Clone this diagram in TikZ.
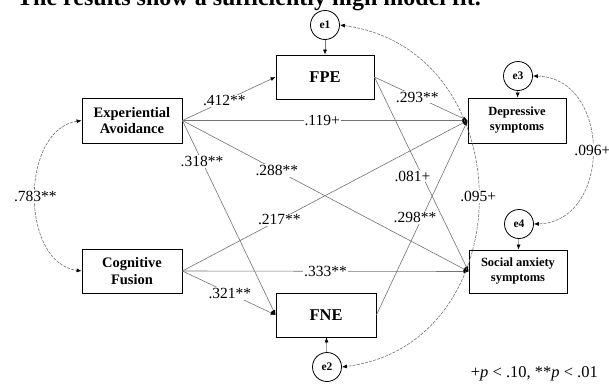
\documentclass[tikz,border=0pt]{standalone}
\usepackage{fontspec}
\setmainfont{Liberation Serif}
\usetikzlibrary{arrows.meta}
\tikzset{
  box/.style={draw=black, line width=0.8pt, fill=white, align=center, inner sep=0pt},
  boxA/.style={box, font=\bfseries\fontsize{14.5}{16.5}\selectfont},
  boxB/.style={box, font=\bfseries\fontsize{12.5}{15}\selectfont},
  boxC/.style={box, font=\bfseries\fontsize{16.5}{18}\selectfont},
  err/.style={circle, draw=black, line width=0.8pt, fill=white, minimum size=29pt, inner sep=0pt, font=\bfseries\fontsize{11.5}{11.5}\selectfont},
  tipk/.tip={Latex[length=5pt,width=4pt,black]},
  link/.style={draw=black!55, line width=0.6pt, -tipk},
  cov/.style={draw=black!55, line width=0.6pt, dash pattern=on 3pt off 1.2pt, tipk-tipk},
  lbl/.style={fill=white, inner sep=1pt, font=\fontsize{15.5}{15.5}\selectfont},
}
\begin{document}
\begin{tikzpicture}[x=1pt, y=-1pt]
\clip (0,0) rectangle (609,383);
\fill[white] (0,0) rectangle (609,383);
% clipped heading line
\node[anchor=base west, inner sep=0pt, font=\bfseries\fontsize{24}{24}\selectfont] (head) at (17,5.5) {The results show a sufficiently high model fit.};
% boxes
\node[boxA, minimum width=100pt, minimum height=45pt] (EA) at (132,120.5) {Experiential\\Avoidance};
\node[boxA, minimum width=100pt, minimum height=44pt] (CF) at (132,271) {Cognitive\\Fusion};
\node[boxC, minimum width=98pt, minimum height=44pt] (FPE) at (325,77) {FPE};
\node[boxC, minimum width=100pt, minimum height=44pt] (FNE) at (326,315) {FNE};
\node[boxB, minimum width=98pt, minimum height=45pt] (DEP) at (517,120.5) {Depressive\\symptoms};
\node[boxB, minimum width=98pt, minimum height=43pt] (SA) at (518,271.5) {Social anxiety\\symptoms};
% error terms
\node[err] (e1) at (325,25) {e1};
\node[err] (e2) at (327,367) {e2};
\node[err] (e3) at (518,76) {e3};
\node[err] (e4) at (519,224) {e4};
% error arrows
\draw[link] (e1) -- (FPE);
\draw[link] (e2) -- (FNE);
\draw[link] (e3) -- (DEP);
\draw[link] (e4) -- (SA);
% paths
\draw[link] (EA.east) -- node[lbl, pos=0.45] {.412**} (FPE.west);
\draw[link] (EA.east) -- node[lbl, pos=0.49] {.119+} (DEP.west);
\draw[link] (EA.east) -- node[lbl, pos=0.21] {.318**} (FNE.west);
\draw[link] (EA.east) -- node[lbl, pos=0.33] {.288**} (SA.west);
\draw[link] (CF.east) -- node[lbl, pos=0.34] {.217**} (DEP.west);
\draw[link] (CF.east) -- node[lbl, pos=0.5] {.333**} (SA.west);
\draw[link] (CF.east) -- node[lbl, pos=0.51] {.321**} (FNE.west);
\draw[link] (FPE.east) -- node[lbl, pos=0.46] {.293**} (DEP.west);
\draw[link] (FPE.east) -- node[lbl, pos=0.51, xshift=-10pt] {.081+} (SA.west);
\draw[link] (FNE.east) -- node[lbl, pos=0.5, xshift=-7pt] {.298**} (DEP.west);
% covariances
\draw[cov] (EA.west) .. controls (20,130) and (20,263) .. node[lbl] {.783**} (CF.west);
\draw[cov] (e1.east) .. controls (524,50) and (524,344) .. node[lbl] {.095+} (e2.east);
\draw[cov] (e3.east) .. controls (612,78) and (612,222) .. node[lbl] {.096+} (e4.east);
% note
\node[anchor=base east, inner sep=0pt, font=\fontsize{16.5}{16.5}\selectfont] (note) at (598,377) {+\textit{p} < .10, **\textit{p} < .01};
\end{tikzpicture}
\end{document}
